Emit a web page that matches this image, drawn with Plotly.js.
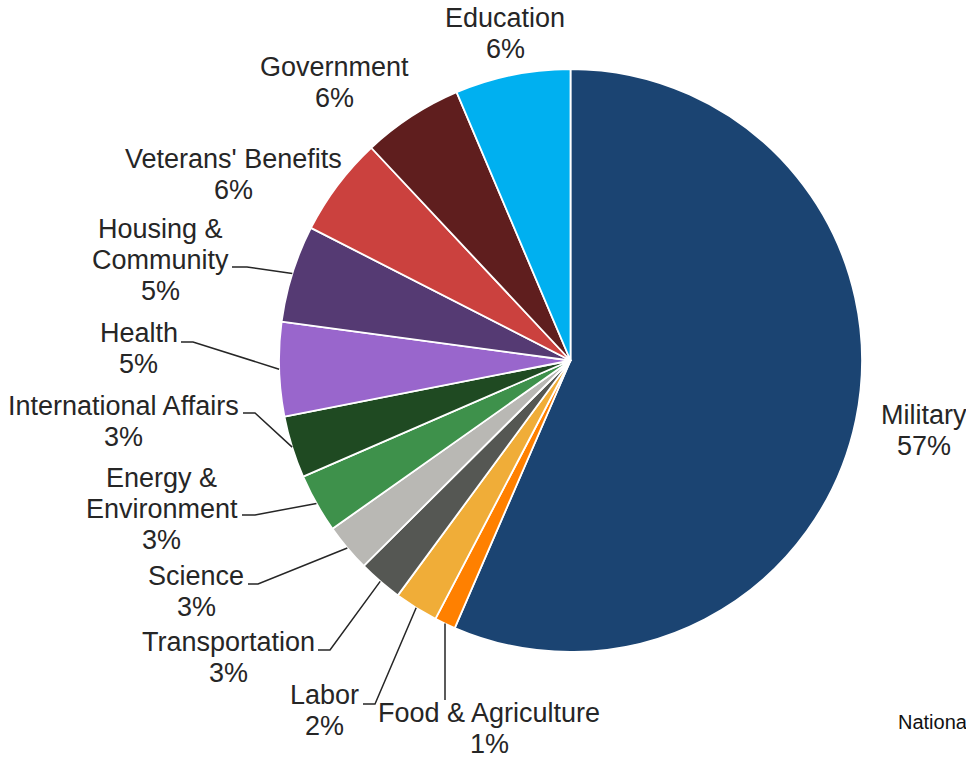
<!DOCTYPE html>
<html>
<head>
<meta charset="utf-8">
<script src="https://cdn.plot.ly/plotly-3.0.1.min.js"></script>
<style>
  html, body { margin: 0; padding: 0; background: #ffffff; }
  #chart { width: 966px; height: 757px; }
</style>
</head>
<body>
<div id="chart"></div>
<script>
// ---- Data ----
const categories = ['Military', 'Food & Agriculture', 'Labor', 'Transportation', 'Science',
  'Energy & Environment', 'International Affairs', 'Health', 'Housing & Community',
  "Veterans' Benefits", 'Government', 'Education'];
const shares = [56.5, 1.17, 2.42, 2.46, 2.66, 3.27, 3.44, 5.21, 5.39, 5.50, 5.59, 6.39];
const pctLabels = ['57%', '1%', '2%', '3%', '3%', '3%', '3%', '5%', '5%', '6%', '6%', '6%'];
const labelLines = [
  ['Military'], ['Food & Agriculture'], ['Labor'], ['Transportation'], ['Science'],
  ['Energy &', 'Environment'], ['International Affairs'], ['Health'], ['Housing &', 'Community'],
  ["Veterans' Benefits"], ['Government'], ['Education']
];
const sliceColors = ['#1B4472', '#FF8000', '#F0AD38', '#555753', '#B9B8B4', '#3E914B',
  '#1F4A22', '#9966CC', '#553A73', '#CB413E', '#5F1E1E', '#00B0F0'];
const sourceText = 'National Priorities Project';

// ---- Layout (pixels) ----
const W = 966, H = 757;
const cx = 570.5, cy = 360.5, R = 291.5;
const lineGap = 31;
const labelPos = [
  {x: 924, y: 415},
  {x: 489, y: 713, elbow: [445, 700], end: 445},
  {x: 324, y: 695, elbow: [375, 704], end: 363},
  {x: 228, y: 642, elbow: [330, 650], end: 318},
  {x: 196, y: 576, elbow: [258, 584], end: 248},
  {x: 161.5, y: 478, elbow: [255, 515], end: 242},
  {x: 123.5, y: 406, elbow: [255, 413], end: 243},
  {x: 138.5, y: 333, elbow: [193, 342], end: 181},
  {x: 160.5, y: 229, elbow: [247, 267], end: 232},
  {x: 233, y: 159},
  {x: 334.5, y: 67},
  {x: 505, y: 18}
];

const px = x => x / W;
const py = y => 1 - y / H;

const total = shares.reduce((a, b) => a + b, 0);
const annotations = [];
const shapes = [];
let cum = 0;
shares.forEach((v, i) => {
  const mid = (cum + v / 2) / total * 2 * Math.PI;
  cum += v;
  const ex = cx + R * Math.sin(mid);
  const ey = cy - R * Math.cos(mid);
  const lp = labelPos[i];
  const lines = labelLines[i].concat([pctLabels[i]]);
  lines.forEach((t, k) => {
    annotations.push({
      text: t, x: px(lp.x), y: py(lp.y + k * lineGap), xref: 'paper', yref: 'paper',
      xanchor: 'center', yanchor: 'middle', showarrow: false,
      font: {family: 'Liberation Sans, Arial, sans-serif', size: 27, color: '#262626'}
    });
  });
  if (lp.elbow) {
    shapes.push({
      type: 'path', xref: 'paper', yref: 'paper',
      path: `M ${px(ex)} ${py(ey)} L ${px(lp.elbow[0])} ${py(lp.elbow[1])} L ${px(lp.end)} ${py(lp.elbow[1])}`,
      line: {color: '#262626', width: 1.5}
    });
  }
});

annotations.push({
  text: sourceText, x: px(896), y: py(722), xref: 'paper', yref: 'paper',
  xanchor: 'left', yanchor: 'middle', showarrow: false,
  font: {family: 'Liberation Sans, Arial, sans-serif', size: 20, color: '#111111'}
});

const trace = {
  type: 'pie',
  labels: categories,
  values: shares,
  sort: false,
  direction: 'clockwise',
  rotation: 0,
  textinfo: 'none',
  textposition: 'none',
  hoverinfo: 'label+percent',
  marker: {colors: sliceColors, line: {color: '#ffffff', width: 1.8}},
  domain: {x: [(cx - R) / W, (cx + R) / W], y: [1 - (cy + R) / H, 1 - (cy - R) / H]},
  showlegend: false
};

Plotly.newPlot('chart', [trace], {
  width: W, height: H,
  margin: {l: 0, r: 0, t: 0, b: 0},
  paper_bgcolor: '#ffffff',
  showlegend: false,
  annotations: annotations,
  shapes: shapes
}, {displayModeBar: false, staticPlot: true});
</script>
</body>
</html>
